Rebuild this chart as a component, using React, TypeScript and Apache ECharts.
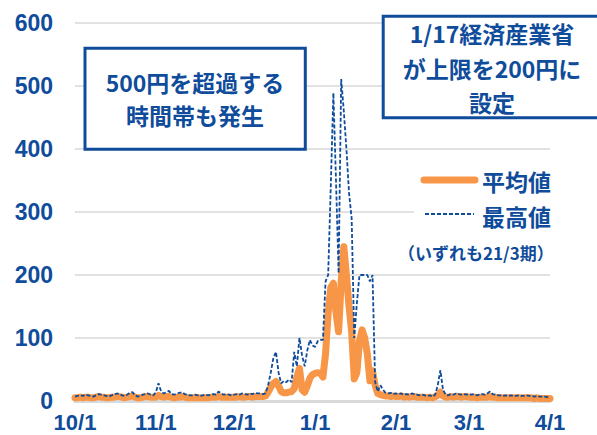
import React, { useEffect, useRef } from "react";
import * as echarts from "echarts";

// Month starts and lengths (2020/10 – 2021/3), plus 4/1
const months = [10, 11, 12, 1, 2, 3];
const monthDays = [31, 30, 31, 31, 28, 31];
const yTicks = [0, 100, 200, 300, 400, 500, 600];

// Daily average price (円/kWh)
const avgOct = [5,5,6,5,6,6,5,5,6,7,6,6,5,5,6,6,7,7,6,5,6,7,8,6,5,5,6,7,7,6,6];
const avgNov = [6,9,7,6,7,7,6,5,6,6,7,6,5,5,5,5,5,5,5,5,5,6,6,6,7,6,6,6,6,6];
const avgDec = [6,6,7,6,6,7,7,6,7,7,7,7,8,14,22,28,31,24,15,13,13,14,15,20,38,52,18,14,24,36,42];
const avgJan = [44,45,44,38,75,140,180,187,140,110,190,245,200,150,110,35,45,95,113,100,75,32,48,25,12,10,9,8,8,7,8];
const avgFeb = [7,7,8,6,7,6,7,7,6,6,6,6,5,6,5,7,9,14,8,6,6,7,6,7,7,6,7,7];
const avgMar = [6,6,6,5,6,6,6,6,7,6,6,5,5,5,5,5,5,5,5,5,5,5,5,5,5,4,5,4,4,4,4];
const avgApr = [4];

// Daily maximum price (円/kWh)
const maxOct = [7,8,9,8,10,9,8,7,9,11,10,9,8,7,9,10,12,11,9,8,10,13,14,9,7,8,10,11,12,10,9];
const maxNov = [14,28,15,12,14,16,11,10,12,13,14,11,10,9,9,10,9,8,9,10,9,10,11,10,15,12,10,11,10,9];
const maxDec = [10,11,10,12,11,10,12,11,13,12,12,11,12,25,45,68,78,45,28,32,30,34,30,78,55,100,72,55,80,97,88];
const maxJan = [86,95,97,97,190,200,340,489,350,203,511,460,400,330,290,100,155,200,200,200,200,190,200,30,15,25,18,13,12,13,11];
const maxFeb = [12,11,12,10,11,10,12,11,10,9,10,9,8,9,7,10,25,49,18,10,9,11,10,12,11,10,11,10];
const maxMar = [11,10,11,9,10,11,10,12,15,11,10,9,9,8,9,8,9,8,8,9,8,8,9,8,8,7,8,7,7,7,6];
const maxApr = [6];

const avgSeries = [...avgOct, ...avgNov, ...avgDec, ...avgJan, ...avgFeb, ...avgMar, ...avgApr];
const maxSeries = [...maxOct, ...maxNov, ...maxDec, ...maxJan, ...maxFeb, ...maxMar, ...maxApr];

const categories: string[] = [];
const monthStartIdx = new Set<number>();
months.forEach((m, i) => {
  monthStartIdx.add(categories.length);
  for (let d = 1; d <= monthDays[i]; d++) categories.push(`${m}/${d}`);
});
monthStartIdx.add(categories.length);
categories.push("4/1");

const BLUE = "#0F4C9B";
const ORANGE = "#F79646";
const FONT = "'Noto Sans CJK JP', 'Noto Sans', sans-serif";
const AXIS_FONT = "'Liberation Sans', Arial, sans-serif";

export default function App() {
  const ref = useRef<HTMLDivElement>(null);
  useEffect(() => {
    if (!ref.current) return;
    const chart = echarts.init(ref.current, undefined, { renderer: "svg" });
    chart.setOption({
      animation: false,
      backgroundColor: "#ffffff",
      grid: { left: 75, right: 47, top: 23, bottom: 34, containLabel: false },
      xAxis: {
        type: "category",
        data: categories,
        boundaryGap: false,
        axisLine: { show: true, lineStyle: { color: "#D9D9D9", width: 3 } },
        axisTick: { show: false },
        axisLabel: {
          interval: (idx: number) => monthStartIdx.has(idx),
          color: BLUE,
          fontSize: 22,
          lineHeight: 22,
          fontWeight: "bold",
          fontFamily: AXIS_FONT,
          margin: 10,
          showMinLabel: true,
          showMaxLabel: true,
        },
        splitLine: { show: false },
      },
      yAxis: {
        type: "value",
        min: yTicks[0],
        max: yTicks[yTicks.length - 1],
        interval: 100,
        axisLine: { show: false },
        axisTick: { show: false },
        axisLabel: { color: BLUE, fontSize: 23, lineHeight: 22, fontWeight: "bold", fontFamily: AXIS_FONT, margin: 22 },
        splitLine: { lineStyle: { color: "#D9D9D9", width: 1.5 } },
      },
      series: [
        {
          name: "平均値",
          type: "line",
          data: avgSeries,
          showSymbol: false,
          symbol: "none",
          lineStyle: { color: ORANGE, width: 7, cap: "round", join: "round" },
          z: 3,
        },
        {
          name: "最高値",
          type: "line",
          data: maxSeries,
          showSymbol: false,
          symbol: "none",
          lineStyle: { color: BLUE, width: 1.8, type: [4, 2] },
          z: 4,
        },
      ],
      graphic: [
        {
          type: "rect",
          z: 20,
          shape: { x: 85, y: 48.3, width: 220.3, height: 101 },
          style: { fill: "#ffffff", stroke: BLUE, lineWidth: 3 },
        },
        {
          type: "text",
          z: 21,
          style: {
            text: "500円を超過する\n時間帯も発生",
            x: 195,
            y: 98.5,
            fill: BLUE,
            fontSize: 23,
            fontWeight: "bold",
            fontFamily: FONT,
            textAlign: "center",
            textVerticalAlign: "middle",
            lineHeight: 33,
          },
        },
        {
          type: "rect",
          z: 20,
          shape: { x: 383.2, y: 16.2, width: 240, height: 101.6 },
          style: { fill: "#ffffff", stroke: BLUE, lineWidth: 3 },
        },
        {
          type: "text",
          z: 21,
          style: {
            text: "1/17経済産業省\nが上限を200円に\n設定",
            x: 492,
            y: 67.5,
            fill: BLUE,
            fontSize: 23,
            fontWeight: "bold",
            fontFamily: FONT,
            textAlign: "center",
            textVerticalAlign: "middle",
            lineHeight: 34.5,
          },
        },
        {
          type: "rect",
          z: 20,
          shape: { x: 414, y: 163, width: 183, height: 102 },
          style: { fill: "#ffffff" },
        },
        {
          type: "line",
          z: 21,
          shape: { x1: 424, y1: 180, x2: 475, y2: 180 },
          style: { stroke: ORANGE, lineWidth: 7, lineCap: "round" },
        },
        {
          type: "line",
          z: 21,
          shape: { x1: 425, y1: 214, x2: 474, y2: 214 },
          style: { stroke: BLUE, lineWidth: 1.8, lineDash: [4, 2] },
        },
        {
          type: "text",
          z: 21,
          style: {
            text: "平均値",
            x: 482,
            y: 181,
            fill: BLUE,
            fontSize: 23,
            fontWeight: "bold",
            fontFamily: FONT,
            textAlign: "left",
            textVerticalAlign: "middle",
          },
        },
        {
          type: "text",
          z: 21,
          style: {
            text: "最高値",
            x: 482,
            y: 216,
            fill: BLUE,
            fontSize: 23,
            fontWeight: "bold",
            fontFamily: FONT,
            textAlign: "left",
            textVerticalAlign: "middle",
          },
        },
        {
          type: "text",
          z: 21,
          style: {
            text: "（いずれも21/3期）",
            x: 398,
            y: 252,
            fill: BLUE,
            fontSize: 17,
            fontWeight: "bold",
            fontFamily: FONT,
            textAlign: "left",
            textVerticalAlign: "middle",
          },
        },
      ],
    });
    return () => chart.dispose();
  }, []);
  return <div ref={ref} style={{ width: 597, height: 435, position: "absolute", left: 0, top: 0 }} />;
}
